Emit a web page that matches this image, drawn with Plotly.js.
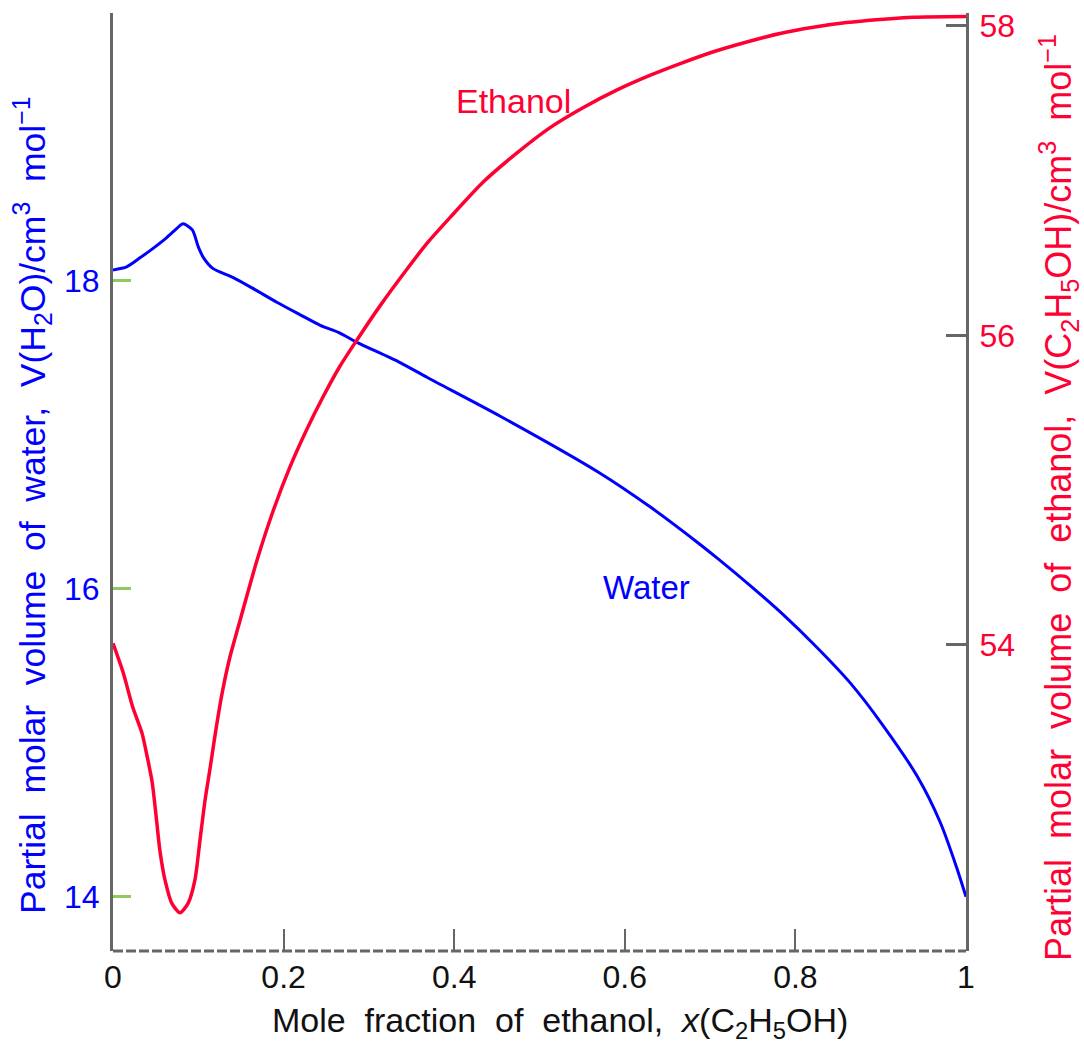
<!DOCTYPE html>
<html>
<head>
<meta charset="utf-8">
<script src="https://cdn.plot.ly/plotly-3.0.1.min.js"></script>
<style>html,body{margin:0;padding:0;background:#fff;}#chart{width:1084px;height:1045px;}</style>
</head>
<body>
<div id="chart"></div>
<script>
// Mole fraction of ethanol (x axis) and partial molar volume of water (left axis)
const waterX = [0, 0.016, 0.032, 0.047, 0.063, 0.075, 0.082, 0.093, 0.100, 0.106, 0.117, 0.141, 0.164, 0.192, 0.219, 0.243, 0.266, 0.286, 0.336, 0.369, 0.454, 0.571, 0.630, 0.683, 0.708, 0.747, 0.786, 0.825, 0.864, 0.903, 0.943, 0.970, 0.989, 1.0];
const waterV = [18.07, 18.09, 18.15, 18.21, 18.28, 18.34, 18.37, 18.33, 18.22, 18.15, 18.08, 18.02, 17.95, 17.86, 17.78, 17.71, 17.66, 17.60, 17.47, 17.37, 17.12, 16.75, 16.53, 16.31, 16.20, 16.02, 15.83, 15.62, 15.39, 15.11, 14.78, 14.48, 14.19, 14.00];

// Mole fraction of ethanol and partial molar volume of ethanol (right axis)
const ethanolX = [0, 0.012, 0.023, 0.034, 0.040, 0.046, 0.051, 0.055, 0.061, 0.069, 0.0785, 0.088, 0.096, 0.102, 0.108, 0.114, 0.120, 0.128, 0.137, 0.147, 0.169, 0.188, 0.2075, 0.227, 0.246, 0.266, 0.286, 0.313, 0.345, 0.369, 0.395, 0.434, 0.474, 0.512, 0.551, 0.591, 0.630, 0.665, 0.703, 0.743, 0.782, 0.821, 0.860, 0.899, 0.938, 1.0];
const ethanolV = [54.01, 53.82, 53.60, 53.43, 53.28, 53.11, 52.87, 52.67, 52.48, 52.33, 52.27, 52.33, 52.48, 52.74, 53.00, 53.21, 53.43, 53.69, 53.92, 54.12, 54.55, 54.87, 55.15, 55.39, 55.60, 55.80, 55.97, 56.19, 56.43, 56.60, 56.76, 56.99, 57.18, 57.34, 57.47, 57.585, 57.68, 57.755, 57.83, 57.895, 57.95, 57.99, 58.02, 58.04, 58.055, 58.06];

const xTickVals = [0, 0.2, 0.4, 0.6, 0.8, 1];
const xTickText = ["0", "0.2", "0.4", "0.6", "0.8", "1"];
const waterTickVals = [14, 16, 18];
const waterTickText = ["14", "16", "18"];
const ethanolTickVals = [54, 56, 58];
const ethanolTickText = ["54", "56", "58"];

const FONT = "Liberation Sans, Arial, sans-serif";
const BLUE = "#0000ff";
const RED = "#ff0033";
const NB = "\u00A0";

const traces = [
  {x: waterX, y: waterV, type: "scatter", mode: "lines", yaxis: "y",
   line: {color: BLUE, width: 3, shape: "spline", smoothing: 0.7}, showlegend: false, hoverinfo: "skip"},
  {x: ethanolX, y: ethanolV, type: "scatter", mode: "lines", yaxis: "y2",
   line: {color: RED, width: 3.5, shape: "spline", smoothing: 0.7}, showlegend: false, hoverinfo: "skip"}
];

const layout = {
  width: 1084, height: 1045,
  margin: {l: 113, r: 118, t: 13, b: 94, pad: 0},
  paper_bgcolor: "#fff", plot_bgcolor: "#fff",
  showlegend: false,
  font: {family: FONT},
  xaxis: {
    range: [0, 1], tickvals: xTickVals, ticktext: xTickText,
    ticks: "inside", ticklen: 22, tickwidth: 2, tickcolor: "#666",
    showgrid: false, zeroline: false, showline: false,
    tickfont: {family: FONT, size: 32, color: "#111"},
    ticklabelstandoff: 4
  },
  yaxis: {
    range: [13.6474, 19.7383], tickvals: waterTickVals, ticktext: waterTickText,
    ticks: "inside", ticklen: 18, tickwidth: 3, tickcolor: "#92c95f",
    showgrid: false, zeroline: false, showline: true, linecolor: "#666", linewidth: 3,
    tickfont: {family: FONT, size: 32, color: BLUE},
    ticklabelstandoff: 4
  },
  yaxis2: {
    range: [52.0226, 58.082], overlaying: "y", side: "right",
    tickvals: ethanolTickVals, ticktext: ethanolTickText,
    ticks: "inside", ticklen: 20, tickwidth: 3, tickcolor: "#666",
    showgrid: false, zeroline: false, showline: true, linecolor: "#666", linewidth: 3,
    tickfont: {family: FONT, size: 32, color: RED},
    ticklabelstandoff: 4
  },
  shapes: [
    {type: "line", xref: "paper", yref: "paper", x0: 0, x1: 1, y0: 0, y1: 0,
     line: {color: "#666", width: 3, dash: "10px,3px"}}
  ],
  annotations: [
    {text: "Mole" + NB + " fraction" + NB + " of" + NB + " ethanol," + NB + " <i>x</i>(C<sub>2</sub>H<sub>5</sub>OH)",
     xref: "paper", yref: "paper", x: 0.524, y: -0.076, xanchor: "center", yanchor: "middle",
     showarrow: false, font: {family: FONT, size: 34, color: "#111"}},
    {text: "Partial" + NB + " molar" + NB + " volume" + NB + " of" + NB + " water," + NB + " V(H<sub>2</sub>O)/cm<sup>3</sup>" + NB + " mol<sup>\u22121</sup>",
     xref: "paper", yref: "paper", x: -0.0938, y: 0.4755, xanchor: "center", yanchor: "middle",
     textangle: -90, showarrow: false, font: {family: FONT, size: 35.5, color: BLUE}},
    {text: "Partial" + NB + " molar" + NB + " volume" + NB + " of" + NB + " ethanol," + NB + " V(C<sub>2</sub>H<sub>5</sub>OH)/cm<sup>3</sup>" + NB + " mol<sup>\u22121</sup>",
     xref: "paper", yref: "paper", x: 1.1078, y: 0.484, xanchor: "center", yanchor: "middle",
     textangle: -90, showarrow: false, font: {family: FONT, size: 36, color: RED}},
    {text: "Ethanol", x: 0.47, y: 57.515, xref: "x", yref: "y2", xanchor: "center", yanchor: "middle",
     showarrow: false, font: {family: FONT, size: 34, color: RED}},
    {text: "Water", x: 0.625, y: 16.01, xref: "x", yref: "y", xanchor: "center", yanchor: "middle",
     showarrow: false, font: {family: FONT, size: 33, color: BLUE}}
  ]
};

Plotly.newPlot("chart", traces, layout, {staticPlot: true, displayModeBar: false});
</script>
</body>
</html>
